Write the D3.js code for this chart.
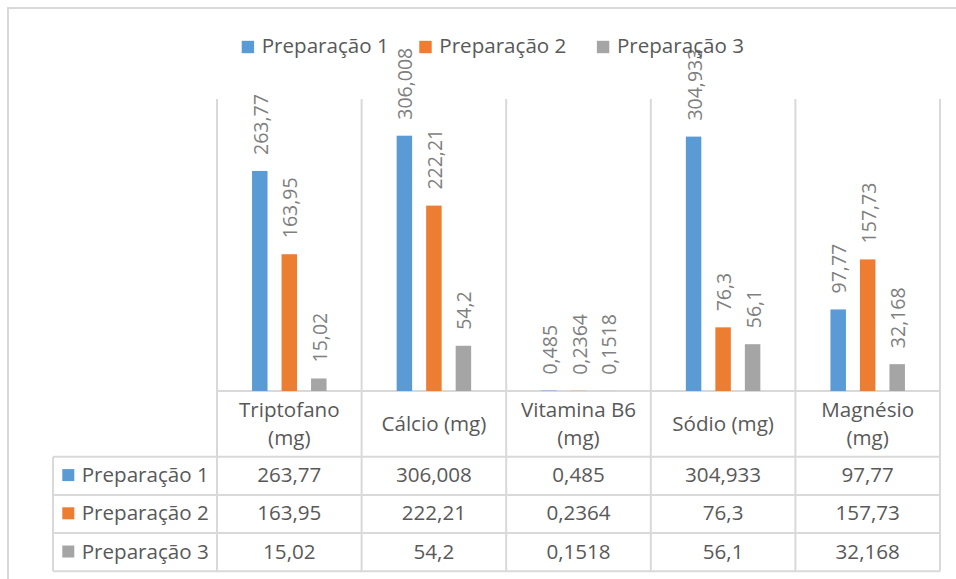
<!DOCTYPE html>
<html>
<head>
<meta charset="utf-8">
<script src="https://cdn.jsdelivr.net/npm/d3@7"></script>
<style>
  html, body { margin: 0; padding: 0; background: #fff; }
  svg { display: block; }
  text { font-family: "Open Sans", sans-serif; }
</style>
</head>
<body>
<svg id="chart" width="956" height="579"></svg>
<script>
// Composição nutricional das preparações
const categories = ["Triptofano (mg)", "Cálcio (mg)", "Vitamina B6 (mg)", "Sódio (mg)", "Magnésio (mg)"];
const seriesNames = ["Preparação 1", "Preparação 2", "Preparação 3"];
const prep1 = [263.77, 306.008, 0.485, 304.933, 97.77];
const prep2 = [163.95, 222.21, 0.2364, 76.3, 157.73];
const prep3 = [15.02, 54.2, 0.1518, 56.1, 32.168];
const seriesValues = [prep1, prep2, prep3];
const seriesColors = ["#5b9bd5", "#ed7d31", "#a5a5a5"];
const valueMax = 350;

const svg = d3.select("#chart");
const gridColor = "#d9d9d9";
const textColor = "#595959";
const labelColor = "#7f7f7f";
const fontSize = 20.6;

// layout
const plot = { left: 217, right: 940, top: 99, bottom: 391 };
const table = { left: 53, headerBottom: 456.7, rowH: 38.2 };

const fmt = v => String(v).replace(".", ",");

// outer chart frame
svg.append("rect")
  .attr("x", 8).attr("y", 8).attr("width", 960).attr("height", 590)
  .attr("fill", "none").attr("stroke", gridColor).attr("stroke-width", 2);

const x0 = d3.scaleBand().domain(categories).range([plot.left, plot.right]).paddingInner(0).paddingOuter(0);
const half = x0.bandwidth() / 2;
const x1 = d3.scaleBand().domain(seriesNames).range([half - 37.25, half + 37.25]).paddingInner(0.475).paddingOuter(0);
const y = d3.scaleLinear().domain([0, valueMax]).range([plot.bottom, plot.top]);

const tableBottom = table.headerBottom + table.rowH * seriesNames.length;

// vertical grid lines between categories (plot + table)
const edges = categories.map(c => x0(c)).concat([plot.right]);
svg.append("g").selectAll("line").data(edges).join("line")
  .attr("x1", d => d).attr("x2", d => d)
  .attr("y1", plot.top).attr("y2", tableBottom)
  .attr("stroke", gridColor).attr("stroke-width", 2);

// category axis line
svg.append("line")
  .attr("x1", plot.left).attr("x2", plot.right)
  .attr("y1", plot.bottom).attr("y2", plot.bottom)
  .attr("stroke", gridColor).attr("stroke-width", 2);

// table horizontal lines and left border
const rowLines = d3.range(seriesNames.length + 1).map(i => table.headerBottom + i * table.rowH);
svg.append("g").selectAll("line").data(rowLines).join("line")
  .attr("x1", table.left).attr("x2", plot.right)
  .attr("y1", d => d).attr("y2", d => d)
  .attr("stroke", gridColor).attr("stroke-width", 2);
svg.append("line")
  .attr("x1", table.left).attr("x2", table.left)
  .attr("y1", table.headerBottom).attr("y2", tableBottom)
  .attr("stroke", gridColor).attr("stroke-width", 2);

// bars
const barData = [];
seriesNames.forEach((s, si) => {
  categories.forEach((c, ci) => barData.push({ s, si, c, v: seriesValues[si][ci] }));
});

svg.append("g").selectAll("rect").data(barData).join("rect")
  .attr("x", d => x0(d.c) + x1(d.s))
  .attr("y", d => y(d.v))
  .attr("width", x1.bandwidth())
  .attr("height", d => y(0) - y(d.v))
  .attr("fill", d => seriesColors[d.si]);

// rotated value labels
svg.append("g").selectAll("text").data(barData).join("text")
  .attr("transform", d => `translate(${x0(d.c) + x1(d.s) + x1.bandwidth() / 2 + 1},${y(d.v) - 16}) rotate(-90)`)
  .attr("dy", "0.36em")
  .attr("font-size", 19.5)
  .attr("fill", labelColor)
  .text(d => fmt(d.v));

// legend on top
const legend = svg.append("g");
let lx = 241.7;
seriesNames.forEach((s, i) => {
  legend.append("rect").attr("x", lx).attr("y", 40.8).attr("width", 12.4).attr("height", 12.4)
    .attr("fill", seriesColors[i]);
  const t = legend.append("text").attr("x", lx + 20).attr("y", 53.3)
    .attr("font-size", fontSize).attr("fill", textColor).text(s);
  lx += 20 + t.node().getComputedTextLength() + 30.5;
});

// table header: category names, wrapped to the column width
const headerCenter = (plot.bottom + table.headerBottom) / 2;
categories.forEach(c => {
  const cx = x0(c) + half;
  const probe = svg.append("text").attr("font-size", fontSize).text(c);
  let lines = [c];
  if (probe.node().getComputedTextLength() > x0.bandwidth() - 14) {
    const k = c.lastIndexOf(" ");
    lines = [c.slice(0, k), c.slice(k + 1)];
  }
  probe.remove();
  const t = svg.append("text").attr("text-anchor", "middle")
    .attr("font-size", fontSize).attr("fill", textColor);
  lines.forEach((ln, i) => {
    t.append("tspan").attr("x", cx)
      .attr("y", headerCenter + 7 + (i - (lines.length - 1) / 2) * 28.6)
      .text(ln);
  });
});

// table rows: legend key, series name and values
seriesNames.forEach((s, si) => {
  const rowTop = table.headerBottom + si * table.rowH;
  const base = rowTop + table.rowH / 2 + 6.3;
  svg.append("rect").attr("x", 62.3).attr("y", base - 13).attr("width", 12).attr("height", 12)
    .attr("fill", seriesColors[si]);
  svg.append("text").attr("x", 81.7).attr("y", base)
    .attr("font-size", fontSize).attr("fill", textColor).text(s);
  categories.forEach((c, ci) => {
    svg.append("text").attr("x", x0(c) + half).attr("y", base)
      .attr("text-anchor", "middle")
      .attr("font-size", fontSize).attr("fill", textColor)
      .text(fmt(seriesValues[si][ci]));
  });
});
</script>
</body>
</html>
